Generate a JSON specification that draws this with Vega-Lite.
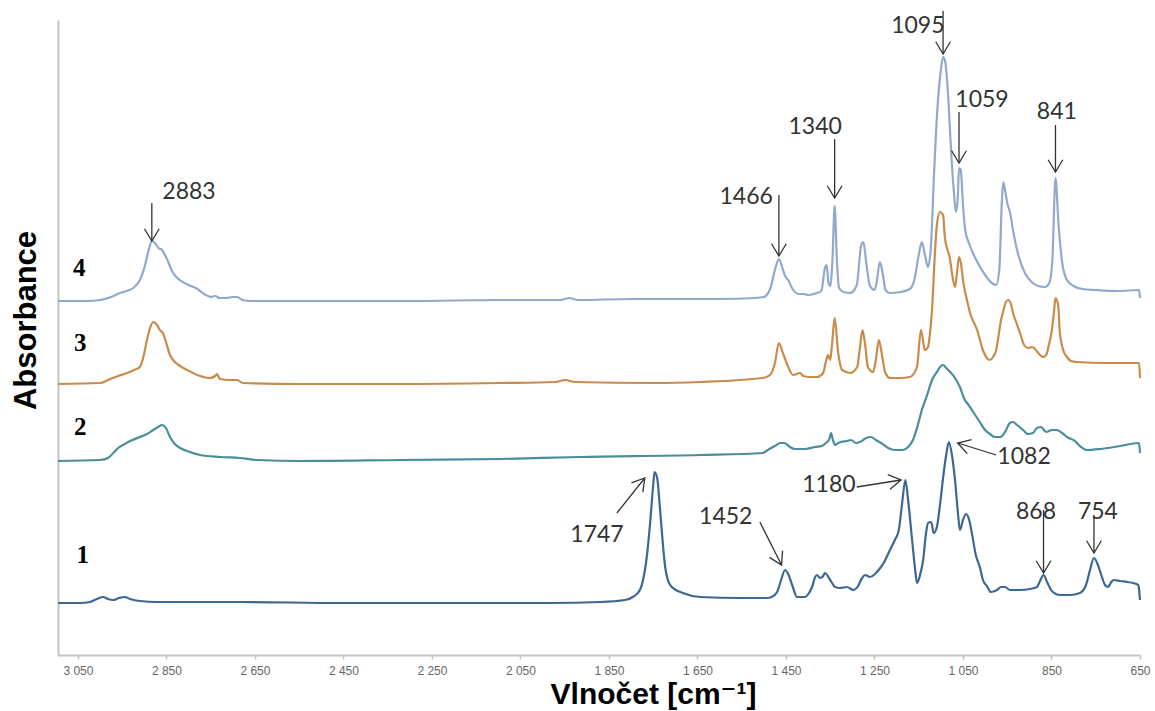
{
  "$schema": "https://vega.github.io/schema/vega-lite/v6.json",
  "width": 1082,
  "height": 635,
  "autosize": {"type": "none"},
  "padding": {"left": 58, "top": 20, "right": 15, "bottom": 56},
  "background": "white",
  "config": {"view": {"stroke": null}},
  "datasets": {
    "spectra": [
      {"s":"1","wn":3095,"A":0.52},{"s":"1","wn":3045,"A":0.52},{"s":"1","wn":3023,"A":0.53},{"s":"1","wn":3007,"A":0.56},{"s":"1","wn":2993,"A":0.58},{"s":"1","wn":2982,"A":0.56},{"s":"1","wn":2971,"A":0.55},{"s":"1","wn":2957,"A":0.57},{"s":"1","wn":2944,"A":0.58},{"s":"1","wn":2932,"A":0.56},{"s":"1","wn":2910,"A":0.54},{"s":"1","wn":2871,"A":0.53},{"s":"1","wn":2684,"A":0.53},{"s":"1","wn":2458,"A":0.52},{"s":"1","wn":2209,"A":0.52},{"s":"1","wn":1983,"A":0.52},{"s":"1","wn":1870,"A":0.53},{"s":"1","wn":1814,"A":0.55},{"s":"1","wn":1796,"A":0.58},{"s":"1","wn":1780,"A":0.65},{"s":"1","wn":1773,"A":0.75},{"s":"1","wn":1764,"A":1.0},{"s":"1","wn":1757,"A":1.32},{"s":"1","wn":1750,"A":1.7},{"s":"1","wn":1747,"A":1.83},{"s":"1","wn":1741,"A":1.77},{"s":"1","wn":1735,"A":1.48},{"s":"1","wn":1728,"A":1.1},{"s":"1","wn":1723,"A":0.88},{"s":"1","wn":1717,"A":0.75},{"s":"1","wn":1708,"A":0.68},{"s":"1","wn":1683,"A":0.62},{"s":"1","wn":1644,"A":0.58},{"s":"1","wn":1554,"A":0.57},{"s":"1","wn":1493,"A":0.57},{"s":"1","wn":1482,"A":0.58},{"s":"1","wn":1470,"A":0.63},{"s":"1","wn":1461,"A":0.75},{"s":"1","wn":1452,"A":0.85},{"s":"1","wn":1445,"A":0.81},{"s":"1","wn":1436,"A":0.7},{"s":"1","wn":1425,"A":0.58},{"s":"1","wn":1407,"A":0.58},{"s":"1","wn":1398,"A":0.62},{"s":"1","wn":1391,"A":0.68},{"s":"1","wn":1384,"A":0.78},{"s":"1","wn":1380,"A":0.8},{"s":"1","wn":1373,"A":0.77},{"s":"1","wn":1366,"A":0.79},{"s":"1","wn":1362,"A":0.82},{"s":"1","wn":1350,"A":0.75},{"s":"1","wn":1339,"A":0.68},{"s":"1","wn":1328,"A":0.67},{"s":"1","wn":1312,"A":0.68},{"s":"1","wn":1298,"A":0.65},{"s":"1","wn":1287,"A":0.69},{"s":"1","wn":1278,"A":0.77},{"s":"1","wn":1271,"A":0.8},{"s":"1","wn":1260,"A":0.78},{"s":"1","wn":1249,"A":0.81},{"s":"1","wn":1237,"A":0.87},{"s":"1","wn":1228,"A":0.93},{"s":"1","wn":1215,"A":1.05},{"s":"1","wn":1204,"A":1.15},{"s":"1","wn":1195,"A":1.25},{"s":"1","wn":1188,"A":1.5},{"s":"1","wn":1180,"A":1.75},{"s":"1","wn":1174,"A":1.55},{"s":"1","wn":1165,"A":1.15},{"s":"1","wn":1158,"A":0.85},{"s":"1","wn":1154,"A":0.72},{"s":"1","wn":1147,"A":0.8},{"s":"1","wn":1140,"A":0.95},{"s":"1","wn":1134,"A":1.2},{"s":"1","wn":1129,"A":1.32},{"s":"1","wn":1122,"A":1.33},{"s":"1","wn":1116,"A":1.22},{"s":"1","wn":1109,"A":1.28},{"s":"1","wn":1102,"A":1.5},{"s":"1","wn":1095,"A":1.77},{"s":"1","wn":1088,"A":2.0},{"s":"1","wn":1082,"A":2.13},{"s":"1","wn":1075,"A":2.0},{"s":"1","wn":1068,"A":1.75},{"s":"1","wn":1061,"A":1.4},{"s":"1","wn":1057,"A":1.25},{"s":"1","wn":1050,"A":1.35},{"s":"1","wn":1043,"A":1.41},{"s":"1","wn":1036,"A":1.35},{"s":"1","wn":1030,"A":1.22},{"s":"1","wn":1021,"A":1.0},{"s":"1","wn":1012,"A":0.88},{"s":"1","wn":1005,"A":0.75},{"s":"1","wn":996,"A":0.69},{"s":"1","wn":987,"A":0.63},{"s":"1","wn":973,"A":0.65},{"s":"1","wn":964,"A":0.68},{"s":"1","wn":955,"A":0.68},{"s":"1","wn":944,"A":0.65},{"s":"1","wn":921,"A":0.65},{"s":"1","wn":899,"A":0.66},{"s":"1","wn":883,"A":0.68},{"s":"1","wn":876,"A":0.74},{"s":"1","wn":868,"A":0.8},{"s":"1","wn":860,"A":0.73},{"s":"1","wn":851,"A":0.65},{"s":"1","wn":840,"A":0.61},{"s":"1","wn":831,"A":0.6},{"s":"1","wn":808,"A":0.6},{"s":"1","wn":786,"A":0.62},{"s":"1","wn":772,"A":0.7},{"s":"1","wn":763,"A":0.85},{"s":"1","wn":754,"A":0.97},{"s":"1","wn":745,"A":0.9},{"s":"1","wn":736,"A":0.78},{"s":"1","wn":729,"A":0.7},{"s":"1","wn":722,"A":0.68},{"s":"1","wn":715,"A":0.73},{"s":"1","wn":709,"A":0.75},{"s":"1","wn":695,"A":0.74},{"s":"1","wn":679,"A":0.73},{"s":"1","wn":666,"A":0.72},{"s":"1","wn":654,"A":0.7},{"s":"1","wn":652,"A":0.65},{"s":"1","wn":650,"A":0.55},

      {"s":"2","wn":3095,"A":1.94},{"s":"2","wn":3000,"A":1.95},{"s":"2","wn":2982,"A":1.97},{"s":"2","wn":2968,"A":2.03},{"s":"2","wn":2959,"A":2.07},{"s":"2","wn":2948,"A":2.1},{"s":"2","wn":2932,"A":2.14},{"s":"2","wn":2910,"A":2.18},{"s":"2","wn":2894,"A":2.21},{"s":"2","wn":2880,"A":2.25},{"s":"2","wn":2869,"A":2.28},{"s":"2","wn":2860,"A":2.3},{"s":"2","wn":2851,"A":2.27},{"s":"2","wn":2842,"A":2.18},{"s":"2","wn":2831,"A":2.11},{"s":"2","wn":2819,"A":2.07},{"s":"2","wn":2797,"A":2.03},{"s":"2","wn":2774,"A":2.0},{"s":"2","wn":2729,"A":1.98},{"s":"2","wn":2684,"A":1.97},{"s":"2","wn":2645,"A":1.95},{"s":"2","wn":2548,"A":1.94},{"s":"2","wn":2322,"A":1.95},{"s":"2","wn":2096,"A":1.96},{"s":"2","wn":1915,"A":1.98},{"s":"2","wn":1644,"A":2.0},{"s":"2","wn":1502,"A":2.02},{"s":"2","wn":1491,"A":2.05},{"s":"2","wn":1475,"A":2.09},{"s":"2","wn":1463,"A":2.12},{"s":"2","wn":1454,"A":2.12},{"s":"2","wn":1441,"A":2.08},{"s":"2","wn":1430,"A":2.06},{"s":"2","wn":1407,"A":2.06},{"s":"2","wn":1384,"A":2.08},{"s":"2","wn":1369,"A":2.09},{"s":"2","wn":1360,"A":2.12},{"s":"2","wn":1353,"A":2.15},{"s":"2","wn":1348,"A":2.22},{"s":"2","wn":1344,"A":2.15},{"s":"2","wn":1339,"A":2.1},{"s":"2","wn":1332,"A":2.12},{"s":"2","wn":1326,"A":2.13},{"s":"2","wn":1312,"A":2.14},{"s":"2","wn":1303,"A":2.15},{"s":"2","wn":1292,"A":2.12},{"s":"2","wn":1283,"A":2.13},{"s":"2","wn":1269,"A":2.17},{"s":"2","wn":1258,"A":2.18},{"s":"2","wn":1247,"A":2.15},{"s":"2","wn":1235,"A":2.12},{"s":"2","wn":1219,"A":2.07},{"s":"2","wn":1204,"A":2.05},{"s":"2","wn":1186,"A":2.05},{"s":"2","wn":1174,"A":2.08},{"s":"2","wn":1163,"A":2.15},{"s":"2","wn":1152,"A":2.3},{"s":"2","wn":1143,"A":2.45},{"s":"2","wn":1131,"A":2.6},{"s":"2","wn":1120,"A":2.75},{"s":"2","wn":1109,"A":2.83},{"s":"2","wn":1100,"A":2.89},{"s":"2","wn":1095,"A":2.9},{"s":"2","wn":1088,"A":2.87},{"s":"2","wn":1079,"A":2.83},{"s":"2","wn":1068,"A":2.77},{"s":"2","wn":1057,"A":2.68},{"s":"2","wn":1046,"A":2.55},{"s":"2","wn":1039,"A":2.51},{"s":"2","wn":1030,"A":2.45},{"s":"2","wn":1021,"A":2.39},{"s":"2","wn":1012,"A":2.33},{"s":"2","wn":1000,"A":2.25},{"s":"2","wn":989,"A":2.21},{"s":"2","wn":978,"A":2.18},{"s":"2","wn":966,"A":2.18},{"s":"2","wn":955,"A":2.23},{"s":"2","wn":944,"A":2.32},{"s":"2","wn":937,"A":2.33},{"s":"2","wn":928,"A":2.3},{"s":"2","wn":914,"A":2.25},{"s":"2","wn":903,"A":2.21},{"s":"2","wn":892,"A":2.22},{"s":"2","wn":883,"A":2.27},{"s":"2","wn":874,"A":2.28},{"s":"2","wn":862,"A":2.23},{"s":"2","wn":849,"A":2.25},{"s":"2","wn":838,"A":2.25},{"s":"2","wn":826,"A":2.22},{"s":"2","wn":815,"A":2.18},{"s":"2","wn":797,"A":2.14},{"s":"2","wn":786,"A":2.09},{"s":"2","wn":770,"A":2.05},{"s":"2","wn":740,"A":2.06},{"s":"2","wn":695,"A":2.09},{"s":"2","wn":652,"A":2.12},{"s":"2","wn":650,"A":2.02},

      {"s":"3","wn":3095,"A":2.71},{"s":"3","wn":3000,"A":2.72},{"s":"3","wn":2982,"A":2.75},{"s":"3","wn":2959,"A":2.79},{"s":"3","wn":2939,"A":2.82},{"s":"3","wn":2923,"A":2.85},{"s":"3","wn":2910,"A":2.88},{"s":"3","wn":2901,"A":3.0},{"s":"3","wn":2894,"A":3.15},{"s":"3","wn":2887,"A":3.27},{"s":"3","wn":2880,"A":3.33},{"s":"3","wn":2871,"A":3.3},{"s":"3","wn":2865,"A":3.25},{"s":"3","wn":2858,"A":3.22},{"s":"3","wn":2851,"A":3.13},{"s":"3","wn":2842,"A":3.0},{"s":"3","wn":2835,"A":2.95},{"s":"3","wn":2819,"A":2.89},{"s":"3","wn":2803,"A":2.85},{"s":"3","wn":2774,"A":2.79},{"s":"3","wn":2752,"A":2.77},{"s":"3","wn":2740,"A":2.79},{"s":"3","wn":2736,"A":2.81},{"s":"3","wn":2729,"A":2.76},{"s":"3","wn":2706,"A":2.75},{"s":"3","wn":2690,"A":2.75},{"s":"3","wn":2677,"A":2.72},{"s":"3","wn":2548,"A":2.71},{"s":"3","wn":2322,"A":2.71},{"s":"3","wn":2096,"A":2.72},{"s":"3","wn":1972,"A":2.73},{"s":"3","wn":1949,"A":2.75},{"s":"3","wn":1927,"A":2.73},{"s":"3","wn":1750,"A":2.72},{"s":"3","wn":1644,"A":2.73},{"s":"3","wn":1502,"A":2.77},{"s":"3","wn":1486,"A":2.8},{"s":"3","wn":1475,"A":2.92},{"s":"3","wn":1466,"A":3.12},{"s":"3","wn":1457,"A":3.02},{"s":"3","wn":1445,"A":2.88},{"s":"3","wn":1434,"A":2.8},{"s":"3","wn":1418,"A":2.82},{"s":"3","wn":1411,"A":2.79},{"s":"3","wn":1396,"A":2.78},{"s":"3","wn":1380,"A":2.78},{"s":"3","wn":1366,"A":2.82},{"s":"3","wn":1360,"A":2.93},{"s":"3","wn":1355,"A":3.0},{"s":"3","wn":1350,"A":2.95},{"s":"3","wn":1346,"A":3.1},{"s":"3","wn":1340,"A":3.37},{"s":"3","wn":1332,"A":3.02},{"s":"3","wn":1323,"A":2.85},{"s":"3","wn":1305,"A":2.82},{"s":"3","wn":1289,"A":2.88},{"s":"3","wn":1283,"A":3.07},{"s":"3","wn":1277,"A":3.25},{"s":"3","wn":1271,"A":3.1},{"s":"3","wn":1265,"A":2.88},{"s":"3","wn":1253,"A":2.83},{"s":"3","wn":1247,"A":2.95},{"s":"3","wn":1240,"A":3.15},{"s":"3","wn":1233,"A":3.0},{"s":"3","wn":1226,"A":2.83},{"s":"3","wn":1215,"A":2.77},{"s":"3","wn":1192,"A":2.77},{"s":"3","wn":1170,"A":2.78},{"s":"3","wn":1154,"A":2.88},{"s":"3","wn":1145,"A":3.25},{"s":"3","wn":1136,"A":3.05},{"s":"3","wn":1129,"A":3.08},{"s":"3","wn":1125,"A":3.2},{"s":"3","wn":1120,"A":3.45},{"s":"3","wn":1113,"A":4.05},{"s":"3","wn":1109,"A":4.3},{"s":"3","wn":1102,"A":4.43},{"s":"3","wn":1095,"A":4.4},{"s":"3","wn":1091,"A":4.18},{"s":"3","wn":1079,"A":3.95},{"s":"3","wn":1075,"A":3.82},{"s":"3","wn":1068,"A":3.68},{"s":"3","wn":1064,"A":3.8},{"s":"3","wn":1059,"A":3.98},{"s":"3","wn":1054,"A":3.9},{"s":"3","wn":1050,"A":3.75},{"s":"3","wn":1041,"A":3.55},{"s":"3","wn":1034,"A":3.42},{"s":"3","wn":1018,"A":3.25},{"s":"3","wn":1005,"A":3.05},{"s":"3","wn":996,"A":2.97},{"s":"3","wn":989,"A":2.95},{"s":"3","wn":982,"A":2.98},{"s":"3","wn":975,"A":3.05},{"s":"3","wn":971,"A":3.15},{"s":"3","wn":964,"A":3.35},{"s":"3","wn":960,"A":3.42},{"s":"3","wn":953,"A":3.53},{"s":"3","wn":948,"A":3.55},{"s":"3","wn":941,"A":3.5},{"s":"3","wn":937,"A":3.42},{"s":"3","wn":930,"A":3.33},{"s":"3","wn":921,"A":3.22},{"s":"3","wn":912,"A":3.1},{"s":"3","wn":903,"A":3.07},{"s":"3","wn":894,"A":3.08},{"s":"3","wn":887,"A":3.06},{"s":"3","wn":880,"A":3.02},{"s":"3","wn":869,"A":2.98},{"s":"3","wn":862,"A":3.0},{"s":"3","wn":856,"A":3.1},{"s":"3","wn":849,"A":3.25},{"s":"3","wn":844,"A":3.45},{"s":"3","wn":841,"A":3.57},{"s":"3","wn":835,"A":3.5},{"s":"3","wn":831,"A":3.22},{"s":"3","wn":822,"A":3.03},{"s":"3","wn":815,"A":2.98},{"s":"3","wn":806,"A":2.94},{"s":"3","wn":792,"A":2.93},{"s":"3","wn":725,"A":2.92},{"s":"3","wn":652,"A":2.92},{"s":"3","wn":650,"A":2.77},

      {"s":"4","wn":3095,"A":3.54},{"s":"4","wn":3030,"A":3.54},{"s":"4","wn":3000,"A":3.55},{"s":"4","wn":2975,"A":3.58},{"s":"4","wn":2955,"A":3.62},{"s":"4","wn":2940,"A":3.64},{"s":"4","wn":2925,"A":3.67},{"s":"4","wn":2910,"A":3.75},{"s":"4","wn":2900,"A":3.87},{"s":"4","wn":2890,"A":4.05},{"s":"4","wn":2883,"A":4.14},{"s":"4","wn":2876,"A":4.12},{"s":"4","wn":2868,"A":4.07},{"s":"4","wn":2860,"A":4.05},{"s":"4","wn":2850,"A":3.97},{"s":"4","wn":2835,"A":3.82},{"s":"4","wn":2820,"A":3.75},{"s":"4","wn":2800,"A":3.7},{"s":"4","wn":2780,"A":3.66},{"s":"4","wn":2765,"A":3.61},{"s":"4","wn":2750,"A":3.58},{"s":"4","wn":2740,"A":3.59},{"s":"4","wn":2730,"A":3.57},{"s":"4","wn":2715,"A":3.57},{"s":"4","wn":2700,"A":3.58},{"s":"4","wn":2690,"A":3.58},{"s":"4","wn":2678,"A":3.55},{"s":"4","wn":2660,"A":3.54},{"s":"4","wn":2500,"A":3.54},{"s":"4","wn":2300,"A":3.54},{"s":"4","wn":2100,"A":3.55},{"s":"4","wn":1960,"A":3.55},{"s":"4","wn":1940,"A":3.57},{"s":"4","wn":1920,"A":3.55},{"s":"4","wn":1800,"A":3.56},{"s":"4","wn":1700,"A":3.56},{"s":"4","wn":1600,"A":3.56},{"s":"4","wn":1520,"A":3.57},{"s":"4","wn":1500,"A":3.58},{"s":"4","wn":1485,"A":3.67},{"s":"4","wn":1475,"A":3.85},{"s":"4","wn":1466,"A":3.96},{"s":"4","wn":1458,"A":3.87},{"s":"4","wn":1452,"A":3.79},{"s":"4","wn":1445,"A":3.75},{"s":"4","wn":1435,"A":3.66},{"s":"4","wn":1420,"A":3.61},{"s":"4","wn":1410,"A":3.61},{"s":"4","wn":1400,"A":3.6},{"s":"4","wn":1380,"A":3.62},{"s":"4","wn":1370,"A":3.64},{"s":"4","wn":1362,"A":3.87},{"s":"4","wn":1358,"A":3.9},{"s":"4","wn":1354,"A":3.72},{"s":"4","wn":1350,"A":3.69},{"s":"4","wn":1345,"A":3.95},{"s":"4","wn":1340,"A":4.49},{"s":"4","wn":1335,"A":3.95},{"s":"4","wn":1330,"A":3.67},{"s":"4","wn":1320,"A":3.63},{"s":"4","wn":1305,"A":3.62},{"s":"4","wn":1290,"A":3.7},{"s":"4","wn":1280,"A":4.1},{"s":"4","wn":1275,"A":4.13},{"s":"4","wn":1268,"A":3.9},{"s":"4","wn":1260,"A":3.69},{"s":"4","wn":1250,"A":3.65},{"s":"4","wn":1245,"A":3.73},{"s":"4","wn":1238,"A":3.93},{"s":"4","wn":1232,"A":3.83},{"s":"4","wn":1225,"A":3.65},{"s":"4","wn":1215,"A":3.62},{"s":"4","wn":1190,"A":3.63},{"s":"4","wn":1170,"A":3.66},{"s":"4","wn":1160,"A":3.75},{"s":"4","wn":1150,"A":4.0},{"s":"4","wn":1143,"A":4.13},{"s":"4","wn":1136,"A":4.0},{"s":"4","wn":1129,"A":3.88},{"s":"4","wn":1123,"A":4.05},{"s":"4","wn":1115,"A":4.85},{"s":"4","wn":1108,"A":5.45},{"s":"4","wn":1100,"A":5.85},{"s":"4","wn":1095,"A":5.98},{"s":"4","wn":1090,"A":5.93},{"s":"4","wn":1083,"A":5.55},{"s":"4","wn":1077,"A":5.05},{"s":"4","wn":1070,"A":4.6},{"s":"4","wn":1066,"A":4.43},{"s":"4","wn":1062,"A":4.55},{"s":"4","wn":1059,"A":4.87},{"s":"4","wn":1055,"A":4.85},{"s":"4","wn":1050,"A":4.5},{"s":"4","wn":1045,"A":4.25},{"s":"4","wn":1035,"A":4.1},{"s":"4","wn":1020,"A":3.95},{"s":"4","wn":1000,"A":3.8},{"s":"4","wn":985,"A":3.72},{"s":"4","wn":975,"A":3.7},{"s":"4","wn":968,"A":3.85},{"s":"4","wn":962,"A":4.55},{"s":"4","wn":959,"A":4.73},{"s":"4","wn":955,"A":4.65},{"s":"4","wn":949,"A":4.5},{"s":"4","wn":945,"A":4.45},{"s":"4","wn":935,"A":4.2},{"s":"4","wn":925,"A":4.0},{"s":"4","wn":910,"A":3.82},{"s":"4","wn":895,"A":3.73},{"s":"4","wn":880,"A":3.69},{"s":"4","wn":865,"A":3.68},{"s":"4","wn":855,"A":3.72},{"s":"4","wn":848,"A":3.95},{"s":"4","wn":841,"A":4.77},{"s":"4","wn":834,"A":4.3},{"s":"4","wn":825,"A":3.9},{"s":"4","wn":815,"A":3.75},{"s":"4","wn":800,"A":3.69},{"s":"4","wn":780,"A":3.66},{"s":"4","wn":750,"A":3.65},{"s":"4","wn":700,"A":3.64},{"s":"4","wn":652,"A":3.65},{"s":"4","wn":650,"A":3.57}
    ],
    "notes": [
      {"label":"2883","tx":2799,"ty":4.63,"ax":2883,"ay":4.52,"hx":2883,"hy":4.14},
      {"label":"1466","tx":1540,"ty":4.58,"ax":1466,"ay":4.6,"hx":1466,"hy":3.99},
      {"label":"1340","tx":1384,"ty":5.28,"ax":1340,"ay":5.16,"hx":1340,"hy":4.57},
      {"label":"1095","tx":1152,"ty":6.29,"ax":1095,"ay":6.44,"hx":1095,"hy":6.01},
      {"label":"1059","tx":1007,"ty":5.55,"ax":1059,"ay":5.43,"hx":1059,"hy":4.92},
      {"label":"841","tx":838,"ty":5.43,"ax":841,"ay":5.3,"hx":841,"hy":4.83},
      {"label":"1747","tx":1877,"ty":1.2,"ax":1832,"ay":1.42,"hx":1769,"hy":1.77},
      {"label":"1452","tx":1586,"ty":1.38,"ax":1509,"ay":1.33,"hx":1460,"hy":0.9},
      {"label":"1180","tx":1353,"ty":1.7,"ax":1290,"ay":1.68,"hx":1190,"hy":1.75},
      {"label":"1082","tx":912,"ty":1.98,"ax":975,"ay":2.0,"hx":1062,"hy":2.12},
      {"label":"868","tx":885,"ty":1.43,"ax":868,"ay":1.45,"hx":868,"hy":0.82},
      {"label":"754","tx":745,"ty":1.43,"ax":754,"ay":1.4,"hx":754,"hy":1.02}
    ],
    "tags": [
      {"s":"4","wn":3047,"A":3.87},
      {"s":"3","wn":3045,"A":3.12},
      {"s":"2","wn":3045,"A":2.28},
      {"s":"1","wn":3039,"A":1.0}
    ]
  },
  "layer": [
    {
      "data": {"name": "spectra"},
      "mark": {"type": "line", "strokeWidth": 2.2, "interpolate": "monotone"},
      "encoding": {
        "x": {
          "field": "wn", "type": "quantitative",
          "scale": {"domain": [3095, 650], "nice": false, "zero": false},
          "axis": {
            "title": "Vlnočet [cm⁻¹]",
            "values": [3050, 2850, 2650, 2450, 2250, 2050, 1850, 1650, 1450, 1250, 1050, 850, 650],
            "labelExpr": "replace(format(datum.value, ','), ',', ' ')",
            "labelFont": "Liberation Sans", "labelFontSize": 12, "labelColor": "#666666",
            "labelPadding": 6, "labelFlush": false, "labelOverlap": false,
            "tickColor": "#bfbfbf", "tickSize": 4, "tickWidth": 1.5,
            "domainColor": "#c4c4c4", "domainWidth": 2, "grid": false,
            "titleFont": "Liberation Sans, DejaVu Sans", "titleFontWeight": "bold", "titleFontSize": 30,
            "titleColor": "#000000", "titleX": 595, "titleY": 48,
            "titleAlign": "center", "titleBaseline": "alphabetic"
          }
        },
        "y": {
          "field": "A", "type": "quantitative",
          "scale": {"domain": [0, 6.35], "nice": false, "zero": false},
          "axis": {
            "title": "Absorbance", "ticks": false, "labels": false, "grid": false,
            "domainColor": "#c4c4c4", "domainWidth": 2,
            "titleFont": "Liberation Sans", "titleFontWeight": "bold", "titleFontSize": 31,
            "titleColor": "#000000", "titleX": -32, "titleY": 300, "titleAngle": -90,
            "titleAlign": "center", "titleBaseline": "middle"
          }
        },
        "color": {
          "field": "s", "type": "nominal",
          "scale": {"domain": ["1", "2", "3", "4"], "range": ["#3e6894", "#4b8d9d", "#c98b4a", "#92a8cc"]},
          "legend": null
        }
      }
    },
    {
      "data": {"name": "notes"},
      "mark": {"type": "rule", "color": "#333333", "strokeWidth": 1.3},
      "encoding": {
        "x": {"field": "ax", "type": "quantitative", "scale": {"domain": [3095, 650], "nice": false, "zero": false}},
        "y": {"field": "ay", "type": "quantitative", "scale": {"domain": [0, 6.35], "nice": false, "zero": false}},
        "x2": {"field": "hx"},
        "y2": {"field": "hy"}
      }
    },
    {
      "data": {"name": "notes"},
      "transform": [{"filter": {"field": "label", "oneOf": ["2883", "1466", "1340", "1095", "1059", "841", "868", "754"]}}],
      "mark": {"type": "point", "shape": "M-0.6,-1L0,0L0.6,-1", "filled": false, "size": 600, "stroke": "#333333", "strokeWidth": 1.3, "opacity": 1},
      "encoding": {
        "x": {"field": "hx", "type": "quantitative", "scale": {"domain": [3095, 650], "nice": false, "zero": false}},
        "y": {"field": "hy", "type": "quantitative", "scale": {"domain": [0, 6.35], "nice": false, "zero": false}}
      }
    },
    {
      "data": {"name": "notes"},
      "transform": [{"filter": "datum.label == '1747'"}],
      "mark": {"type": "point", "shape": "M-0.6,-1L0,0L0.6,-1", "filled": false, "size": 600, "stroke": "#333333", "strokeWidth": 1.3, "opacity": 1, "angle": -141},
      "encoding": {
        "x": {"field": "hx", "type": "quantitative", "scale": {"domain": [3095, 650], "nice": false, "zero": false}},
        "y": {"field": "hy", "type": "quantitative", "scale": {"domain": [0, 6.35], "nice": false, "zero": false}}
      }
    },
    {
      "data": {"name": "notes"},
      "transform": [{"filter": "datum.label == '1452'"}],
      "mark": {"type": "point", "shape": "M-0.6,-1L0,0L0.6,-1", "filled": false, "size": 600, "stroke": "#333333", "strokeWidth": 1.3, "opacity": 1, "angle": -27},
      "encoding": {
        "x": {"field": "hx", "type": "quantitative", "scale": {"domain": [3095, 650], "nice": false, "zero": false}},
        "y": {"field": "hy", "type": "quantitative", "scale": {"domain": [0, 6.35], "nice": false, "zero": false}}
      }
    },
    {
      "data": {"name": "notes"},
      "transform": [{"filter": "datum.label == '1180'"}],
      "mark": {"type": "point", "shape": "M-0.6,-1L0,0L0.6,-1", "filled": false, "size": 600, "stroke": "#333333", "strokeWidth": 1.3, "opacity": 1, "angle": -99},
      "encoding": {
        "x": {"field": "hx", "type": "quantitative", "scale": {"domain": [3095, 650], "nice": false, "zero": false}},
        "y": {"field": "hy", "type": "quantitative", "scale": {"domain": [0, 6.35], "nice": false, "zero": false}}
      }
    },
    {
      "data": {"name": "notes"},
      "transform": [{"filter": "datum.label == '1082'"}],
      "mark": {"type": "point", "shape": "M-0.6,-1L0,0L0.6,-1", "filled": false, "size": 600, "stroke": "#333333", "strokeWidth": 1.3, "opacity": 1, "angle": 107},
      "encoding": {
        "x": {"field": "hx", "type": "quantitative", "scale": {"domain": [3095, 650], "nice": false, "zero": false}},
        "y": {"field": "hy", "type": "quantitative", "scale": {"domain": [0, 6.35], "nice": false, "zero": false}}
      }
    },
    {
      "data": {"name": "notes"},
      "mark": {"type": "text", "font": "Lato", "fontSize": 23, "color": "#333333", "align": "center", "baseline": "middle"},
      "encoding": {
        "x": {"field": "tx", "type": "quantitative", "scale": {"domain": [3095, 650], "nice": false, "zero": false}},
        "y": {"field": "ty", "type": "quantitative", "scale": {"domain": [0, 6.35], "nice": false, "zero": false}},
        "text": {"field": "label"}
      }
    },
    {
      "data": {"name": "tags"},
      "mark": {"type": "text", "font": "Liberation Serif", "fontWeight": "bold", "fontSize": 25, "color": "#000000", "align": "center", "baseline": "middle"},
      "encoding": {
        "x": {"field": "wn", "type": "quantitative", "scale": {"domain": [3095, 650], "nice": false, "zero": false}},
        "y": {"field": "A", "type": "quantitative", "scale": {"domain": [0, 6.35], "nice": false, "zero": false}},
        "text": {"field": "s"}
      }
    }
  ]
}
